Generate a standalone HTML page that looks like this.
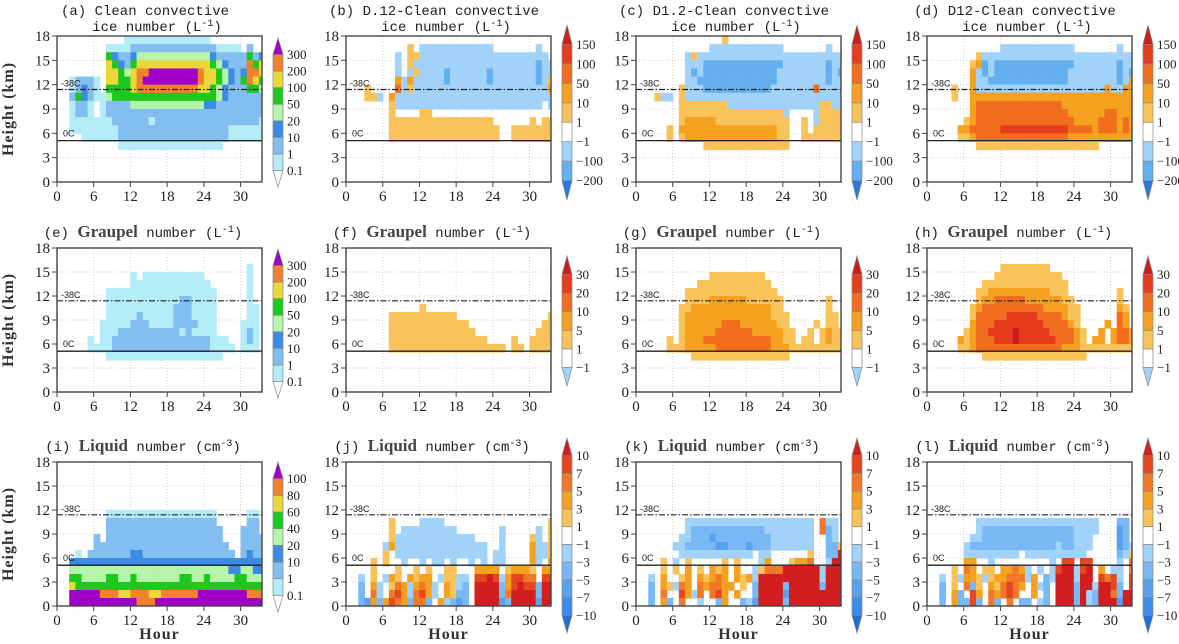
<!DOCTYPE html>
<html><head><meta charset="utf-8">
<style>
html,body{margin:0;padding:0;background:#fff;}
svg{display:block;}
</style></head>
<body>
<svg id="fig" width="1179" height="644" viewBox="0 0 1179 644" xmlns="http://www.w3.org/2000/svg"></svg>
<script>
// ---------- data: hour/height ticks ----------
const hourTicks = [0, 6, 12, 18, 24, 30];
const heightTicks = [0, 3, 6, 9, 12, 15, 18];
const hourMax = 33.5;
const heightMax = 18;
const freezeLevel = 5.1;
const homogLevel = 11.4;

// ---------- colour levels ----------
const absLabelsIce = ["0.1","1","10","20","50","100","200","300"];
const absLabelsLiq = ["0.1","1","10","20","40","60","80","100"];
const diffLabelsIce = ["-200","-100","-1","1","10","50","100","150"];
const diffLabelsGra = ["-1","1","5","10","20","30"];
const diffLabelsLiq = ["-10","-7","-5","-3","-1","1","3","5","7","10"];

const absColors = ["#ffffff","#b4ecf8","#82bef0","#3c8ce6","#b4f5aa","#1ec81e","#ebd737","#f0822d","#a000c8"];
const diffIceColors = ["#2878dc","#64aff0","#a0d2fa","#ffffff","#fac35a","#f5a01e","#f06e1e","#e63c1e","#c81e1e"];
const diffGraColors = ["#a0d2fa","#ffffff","#fac35a","#f5a01e","#f06e1e","#e63c1e","#c81e1e"];
const diffLiqColors = ["#1e6edc","#3c8cec","#5aa0f0","#78b9f5","#a0d2fa","#ffffff","#fac35a","#f5a01e","#f07828","#e6461e","#d21e1e"];

// cell code -> colour
const palAbs = {"0":"#b4ecf8","1":"#82bef0","2":"#3c8ce6","3":"#b4f5aa","4":"#1ec81e","5":"#ebd737","6":"#f0822d","7":"#a000c8"};
const palDiffIce = {"a":"#a0d2fa","b":"#64aff0","c":"#2878dc","1":"#fac35a","2":"#f5a01e","3":"#f06e1e","4":"#e63c1e","5":"#c81e1e"};
const palDiffGra = {"a":"#a0d2fa","1":"#fac35a","2":"#f5a01e","3":"#f06e1e","4":"#e63c1e","5":"#c81e1e"};
const palDiffLiq = {"a":"#a0d2fa","b":"#78b9f5","c":"#5aa0f0","d":"#3c8cec","e":"#1e6edc","1":"#fac35a","2":"#f5a01e","3":"#f07828","4":"#e6461e","5":"#d21e1e"};

// ---------- gridded fields: rows top(17-18 km) -> bottom(0-1 km), 1 char per hour ----------
const gridA = [
"......|.....0|000000|000000|0.....|....",
"......|..0000|111111|111111|110000|.1..",
"......|..4211|233333|333333|321111|1412",
"......|..5421|455555|555555|543211|1645",
"......|..5543|566777|777776|554321|2665",
"..0111|0.5544|567777|777776|554321|4654",
"..0121|0.4444|566666|666665|543211|1443",
"..1421|003444|444444|444444|443211|1111",
"..0110|.01111|333333|333333|221111|1111",
"..0110|.01111|111111|111111|111111|1111",
"..0000|000111|111011|111111|111111|1110",
"..0000|000011|111111|111111|111100|0000",
"....00|000011|111111|111111|111100|0000",
"......|....00|000000|000000|000...|....",
"","","",""];
const gridB = [
"",
"......|....1.|aaaaaa|aaaaaa|......|.a..",
"......|..a.11|aaaaaa|aaaaaa|aaaaaa|aaa.",
"......|..a.1a|aaaaaa|aaaaaa|aaaaaa|abaa",
"......|..a.a1|aaaaba|aaaaab|aaaaaa|abaa",
"......|..2a2a|aaaaba|aaaaab|aaaaaa|aba1",
"...1..|..3a1a|aaaaaa|aaaaaa|aaaaaa|aaa2",
"...11a|.2aaaa|aaaaaa|aaaaaa|aaaaaa|aaaa",
"......|.1aaaa|aaaaaa|aaaaaa|aaaaaa|aa.a",
"......|.1....|11....|......|......|....",
"......|.11111|111111|111111|......|1.11",
"......|.11111|111111|111111|1..111|1111",
"......|.11111|111111|111111|1..111|1111",
"","","","",""];
const gridC = [
"......|......|..1...|......|......|....",
"......|......|aaaaaa|aaaaaa|......|.a..",
"......|..a1aa|aaaaaa|aaaaaa|aaaaaa|aaaa",
"......|..aaab|bbbbbb|bbbbbb|aaaaaa|abaa",
"......|..abab|bbbbbb|bbbbba|aaaaaa|abab",
"......|..aabb|bbbbbb|bbbbba|aaaaaa|abaa",
"......|.1aaab|bbbbbb|bbbbaa|aaaaa3|aaaa",
"...1aa|.1aaaa|aaaaaa|aaaaaa|aaaaaa|aaaa",
"......|.11111|111aaa|aaaaaa|aaaaaa|11aa",
"......|.11111|111111|111111|a....a|1111",
"......|.12222|211111|111111|1..1.a|1111",
".....1|.22222|222222|222221|1..1.1|1111",
".....1|.12222|222222|222221|1..111|1111",
"......|.....1|111111|111111|1.....|....",
"","","",""];
const gridD = [
"",
"......|......|aaaaaa|aaaaaa|......|.a..",
"......|..1aaa|aaaaaa|aaaaaa|aaaaaa|aaaa",
"......|.12bab|bbbbbb|bbbbbb|aaaaaa|abaa",
"......|.2abab|bbbbbb|bbbbba|aaaaaa|abab",
"......|.2aabb|bbbbbb|bbbbba|aaaaaa|aba2",
"....1.|.2aaaa|aaaaaa|aaaaaa|aaaaa2|aa22",
"....1.|.22222|222222|222222|222222|2222",
"......|.23333|333333|333322|222222|2222",
"......|.23333|333333|333332|222223|3222",
"......|123333|333333|333333|222233|3232",
".....2|233333|444444|444443|333233|3232",
".....1|123333|333333|333332|222222|2222",
"......|..1111|111111|111111|1111..|....",
"","","",""];
const gridE = [
"","",
"......|......|......|......|......|.0..",
"......|......|0.0000|000000|......|.0..",
"......|......|000000|000000|0.....|.0..",
"......|..0000|000000|000000|00....|.0..",
"......|..0000|000000|001100|00....|.0..",
"......|..0000|000000|011100|00....|.00.",
"......|..0000|010000|011100|00....|.00.",
"......|.00000|111000|011110|00....|000.",
"......|.00011|111111|110100|00....|010.",
".....0|.00111|111111|111111|1000..|010.",
".....0|000111|111111|111111|10000.|000.",
"......|..0000|000000|000000|000...|....",
"","","",""];
const gridF = [
"","","","","","","",
"......|......|1.....|......|......|....",
"......|.11111|111111|......|......|...1",
"......|.11111|111111|11....|......|..11",
"......|.11111|111111|111...|......|.111",
"......|.11111|111111|11111.|...1..|1111",
"......|.11111|111111|111111|11.11.|1111",
"","","","",""];
const gridG = [
"","","",
"......|......|111111|111...|......|....",
"......|....11|111111|1111..|......|....",
"......|..1111|111111|11111.|......|....",
"......|..1111|222222|111111|......|.1..",
"......|.11222|222222|222211|......|.1..",
"......|.12222|222222|222211|1.....|.11.",
"......|.12222|223332|222221|1....1|.11.",
"......|.12222|233333|322222|11..1.|1211",
".....1|.12223|333333|333322|11.11.|1211",
".....1|112222|233333|333322|211111|1111",
"......|...111|111111|111111|1.....|....",
"","","",""];
const gridH = [
"","",
"......|......|111111|11....|......|....",
"......|.....1|111111|1111..|......|....",
"......|...111|111111|11111.|......|....",
"......|..1122|222222|22111.|......|.1..",
"......|..1223|333322|222211|......|.1..",
"......|.12333|333333|322221|1.....|.21.",
"......|.13333|344444|333321|1.....|.32.",
"......|.23334|444444|433332|1....2|.32.",
"......|123344|445444|443333|21..2.|2332",
".....2|123334|445444|444333|21.22.|2332",
".....1|123333|333333|333322|211111|1111",
"......|...111|111111|111111|11....|....",
"","","",""];
const gridI = [
"","","","","","",
"......|..0000|000000|000000|00....|.00.",
"......|..1111|111111|111111|11....|.11.",
"......|..1111|111111|111111|111...|111.",
"......|1.1111|111111|111111|111...|1111",
"......|111111|111111|111111|1111..|1111",
"...0.1|111111|221111|111111|11111.|1211",
"..2222|222222|222222|222222|222222|2222",
"..3333|333333|333333|333333|333322|3322",
"..4433|334433|433333|334433|433334|4333",
"..5444|444444|444444|444444|444444|4444",
"..7777|766655|666556|666667|777777|7666",
"..7777|777777|766677|777777|777777|7777"];
const gridJ = [
"","","","","","","",
"......|.1....|aaaa..|......|......|...1",
"......|.1.aaa|aaaaaa|......|.a....|.a.1",
"......|.1aaaa|aaaaaa|aaa...|.a....|1a.1",
"......|a2aaaa|aaaaaa|aaaaa.|.a....|2aa1",
"......|1.aaaa|aaaaaa|aaaaa.|aa....|2aa1",
"....1.|1..a..|a.aa.a|..a.a.|aa....|2a.2",
"....1.|..1..1|.1..11|...222|2.1222|1.22",
"..a.1.|a21.21|22.a11|aa.445|4a2443|3.44",
"..b.2a|.132a2|32a.21|ab.555|5b2454|4b55",
"..b.3a|.342a3|42a.21|bb.555|5b3555|5b55",
"..bc2b|2432b3|3b.2ab|cb.555|5cb555|5c55"];
const gridK = [
"","","","","","","",
"......|..aaaa|aaaaaa|aaaaaa|aaaaa.|3aa.",
"......|..abbb|bbbbbb|bbbaaa|aaaaa.|3ba.",
"......|.aabbb|cbbbbb|bbbbaa|aaaaa.|.ba.",
"......|aabbbb|bccbbb|cbbbaa|aaaaa.|.bb1",
"......|.aaaaa|aaaaaa|a.aa..|....1.|.bb5",
"....1.|a.1...|..1.1.|..a2..|.1223.|.a55",
"....1.|1.2.1.|212.2.|.a1333|555555|a555",
"..a.2.|.12.21|232.21|2a5555|555555|a555",
"..b.21|a32.32|3322.1|.b5555|b55555|b555",
"..b.3.|.42a3.|342.2.|.b5555|c55555|5555",
"..b.2b|.3..a.|.b2..b|ac5555|b55555|5555"];
const gridL = [
"","","","","","","",
"......|..aaaa|aaaaaa|aaaaaa|aaaa..|.bb.",
"......|..abbb|bbbbbb|bbbbbb|aaaa..|.cb.",
"......|.aabbb|bbbbbb|bbbbbb|aaa...|.cb.",
"......|abbbbb|bbbbbb|bbbabb|aaa...|.cba",
"......|aaaaaa|aaa.aa|aaaaaa|aa....|.ba1",
"......|22..a.|......|..a.44|.44...|.a.3",
"....1.|32.11.|2232a.|a.a455|a45.2.|aa.3",
"..a.1a|221a12|2333a2|.ba555|a55.43|4a.4",
"..b.1.|3b1.21|3432.2|ab.555|b55a55|4b.4",
"..b.2b|.42.32|343..2|.b.555|b5ab55|3b55",
"..b.2b|b4b.3b|.3.bb.|ab.555|b5ab55|5c55"];

// ---------- layout ----------
const colLeft = [57, 346, 636, 927];
const boxW = 205;
const rowTop = [36, 248, 462];
const rowBot = [182, 392, 606];
const cbarTop = [[38,25,25,25],[249,256,256,256],[462,438,438,438]];
const cbarBot = [[187,200,200,200],[398,386,386,386],[612,633,633,633]];

const panels = [
 {key:"a",r:0,c:0,grid:gridA,pal:palAbs,cb:absColors,lab:absLabelsIce,t1:"(a) Clean convective",t2:"ice number (L",sup:"-1"},
 {key:"b",r:0,c:1,grid:gridB,pal:palDiffIce,cb:diffIceColors,lab:diffLabelsIce,t1:"(b) D.12-Clean convective",t2:"ice number (L",sup:"-1"},
 {key:"c",r:0,c:2,grid:gridC,pal:palDiffIce,cb:diffIceColors,lab:diffLabelsIce,t1:"(c) D1.2-Clean convective",t2:"ice number (L",sup:"-1"},
 {key:"d",r:0,c:3,grid:gridD,pal:palDiffIce,cb:diffIceColors,lab:diffLabelsIce,t1:"(d) D12-Clean convective",t2:"ice number (L",sup:"-1"},
 {key:"e",r:1,c:0,grid:gridE,pal:palAbs,cb:absColors,lab:absLabelsIce,pre:"(e) ",bold:"Graupel",post:" number (L",sup:"-1"},
 {key:"f",r:1,c:1,grid:gridF,pal:palDiffGra,cb:diffGraColors,lab:diffLabelsGra,pre:"(f) ",bold:"Graupel",post:" number (L",sup:"-1"},
 {key:"g",r:1,c:2,grid:gridG,pal:palDiffGra,cb:diffGraColors,lab:diffLabelsGra,pre:"(g) ",bold:"Graupel",post:" number (L",sup:"-1"},
 {key:"h",r:1,c:3,grid:gridH,pal:palDiffGra,cb:diffGraColors,lab:diffLabelsGra,pre:"(h) ",bold:"Graupel",post:" number (L",sup:"-1"},
 {key:"i",r:2,c:0,grid:gridI,pal:palAbs,cb:absColors,lab:absLabelsLiq,pre:"(i) ",bold:"Liquid",post:" number (cm",sup:"-3"},
 {key:"j",r:2,c:1,grid:gridJ,pal:palDiffLiq,cb:diffLiqColors,lab:diffLabelsLiq,pre:"(j) ",bold:"Liquid",post:" number (cm",sup:"-3"},
 {key:"k",r:2,c:2,grid:gridK,pal:palDiffLiq,cb:diffLiqColors,lab:diffLabelsLiq,pre:"(k) ",bold:"Liquid",post:" number (cm",sup:"-3"},
 {key:"l",r:2,c:3,grid:gridL,pal:palDiffLiq,cb:diffLiqColors,lab:diffLabelsLiq,pre:"(l) ",bold:"Liquid",post:" number (cm",sup:"-3"}
];

const NS = "http://www.w3.org/2000/svg";
const svg = document.getElementById("fig");
function mk(tag, attrs, parent){
  const e = document.createElementNS(NS, tag);
  for (const k in attrs) e.setAttribute(k, attrs[k]);
  (parent||svg).appendChild(e);
  return e;
}
const defs = mk("defs", {});
const MONO = "'Liberation Mono', monospace";
const SERIF = "'Liberation Serif', serif";

panels.forEach(p => {
  const left = colLeft[p.c], top = rowTop[p.r], bot = rowBot[p.r];
  const xS = h => left + h * boxW / hourMax;
  const yS = km => bot - km * (bot - top) / heightMax;

  const g = mk("g", {});
  
  

  const cp = mk("clipPath", {id: "clip" + p.key}, defs);
  mk("rect", {x:left, y:top, width:boxW, height:bot-top}, cp);

  // gridlines
  const grid = mk("g", {stroke:"#c8c8c8","stroke-width":"0.8","stroke-dasharray":"1,2"}, g);
  
  
  hourTicks.forEach(h => { if (h>0) mk("line",{x1:xS(h),x2:xS(h),y1:top,y2:bot},grid); });
  heightTicks.forEach(k => { if (k>0 && k<18) mk("line",{x1:left,x2:left+boxW,y1:yS(k),y2:yS(k)},grid); });

  // filled field
  const field = mk("g", {"clip-path":"url(#clip"+p.key+")"}, g);
  
  
  p.grid.forEach((row, ri) => {
    const s = row.replace(/\|/g, "");
    const kmLow = heightMax - 1 - ri;
    for (let hi = 0; hi < s.length; hi++) {
      const ch = s[hi];
      if (ch === "." || !p.pal[ch]) continue;
      const cell = mk("rect", {x:xS(hi), y:yS(kmLow+1), width:xS(hi+1)-xS(hi)+0.6, height:yS(kmLow)-yS(kmLow+1)+0.6, fill:p.pal[ch]}, field);
      
      
    }
  });

  // reference lines
  const fl = mk("line", {x1:left,x2:left+boxW,y1:yS(freezeLevel),y2:yS(freezeLevel),stroke:"#222","stroke-width":"1.3"}, g);
  
  
  const hl = mk("line", {x1:left,x2:left+boxW,y1:yS(homogLevel),y2:yS(homogLevel),stroke:"#222","stroke-width":"1.2","stroke-dasharray":"6,2,1.5,2"}, g);
  
  
  const t38 = mk("text", {x:left+4, y:yS(homogLevel)-3, "font-size":"9", "font-family":"'Liberation Sans', sans-serif", fill:"#222"}, g);
  t38.textContent = "-38C";
  
  
  const t0 = mk("text", {x:left+6, y:yS(freezeLevel)-4, "font-size":"9", "font-family":"'Liberation Sans', sans-serif", fill:"#222"}, g);
  t0.textContent = "0C";
  
  

  // frame
  const fr = mk("rect", {x:left, y:top, width:boxW, height:bot-top, fill:"none", stroke:"#444", "stroke-width":"1.4"}, g);
  
  

  // y ticks
  heightTicks.forEach(k => {
    mk("line", {x1:left-5, x2:left, y1:yS(k), y2:yS(k), stroke:"#444", "stroke-width":"1"}, g);
    const t = mk("text", {x:left-7, y:yS(k)+5, "text-anchor":"end", "font-size":"15", "font-family":SERIF, fill:"#222"}, g);
    t.textContent = k;
    
    
  });
  // x ticks
  hourTicks.forEach(h => {
    mk("line", {x1:xS(h), x2:xS(h), y1:bot, y2:bot+5, stroke:"#444", "stroke-width":"1"}, g);
    const t = mk("text", {x:xS(h), y:bot+19, "text-anchor":"middle", "font-size":"15", "font-family":SERIF, fill:"#222"}, g);
    t.textContent = h;
    
    
  });

  // title
  if (p.t1) {
    const a = mk("text", {x:left+88, y:top-21, "text-anchor":"middle", "font-size":"14", "font-family":MONO, fill:"#222"}, g);
    a.textContent = p.t1;
    
    
    const b = mk("text", {x:left+100, y:top-5, "text-anchor":"middle", "font-size":"14", "font-family":MONO, fill:"#222"}, g);
    b.appendChild(document.createTextNode(p.t2));
    const sp = mk("tspan", {dy:"-5", "font-size":"10"}, b); sp.textContent = p.sup;
    const cl = mk("tspan", {dy:"5"}, b); cl.textContent = ")";
    
    
  } else {
    const a = mk("text", {x:left+86, y:top-11, "text-anchor":"middle", "font-size":"14", "font-family":MONO, fill:"#222"}, g);
    const t1 = mk("tspan", {}, a); t1.textContent = p.pre;
    const t2 = mk("tspan", {"font-family":SERIF, "font-weight":"bold", "font-size":"17", fill:"#444"}, a); t2.textContent = p.bold;
    const t3 = mk("tspan", {}, a); t3.textContent = p.post;
    const t4 = mk("tspan", {dy:"-5", "font-size":"10"}, a); t4.textContent = p.sup;
    const t5 = mk("tspan", {dy:"5"}, a); t5.textContent = ")";
    
    
  }

  // colorbar
  const cbx = left + 216, cbw = 10;
  const T = cbarTop[p.r][p.c], B = cbarBot[p.r][p.c];
  const n = p.cb.length, h = (B - T) / n;
  const cbg = mk("g", {}, g);
  
  
  p.cb.forEach((col, i) => {
    const yTop = B - (i + 1) * h, yBot = B - i * h;
    let el;
    if (i === 0) {
      el = mk("polygon", {points:`${cbx},${yTop} ${cbx+cbw},${yTop} ${cbx+cbw/2},${yBot}`, fill:col, stroke:"#888", "stroke-width":"0.7"}, cbg);
    } else if (i === n - 1) {
      el = mk("polygon", {points:`${cbx},${yBot} ${cbx+cbw},${yBot} ${cbx+cbw/2},${yTop}`, fill:col, stroke:"#888", "stroke-width":"0.7"}, cbg);
    } else {
      el = mk("rect", {x:cbx, y:yTop, width:cbw, height:h, fill:col, stroke:"#888", "stroke-width":"0.7"}, cbg);
    }
    
    
  });
  p.lab.forEach((lb, i) => {
    const y = B - (i + 1) * h;
    const t = mk("text", {x:cbx+cbw+4, y:y+4.5, "font-size":"13", "font-family":SERIF, fill:"#222"}, cbg);
    t.textContent = lb.replace("-", "\u2212");
    
    
  });
});

// axis titles
rowTop.forEach((top, r) => {
  const cy = (top + rowBot[r]) / 2;
  const t = mk("text", {x:0, y:0, transform:`translate(13,${cy}) rotate(-90)`, "text-anchor":"middle", "font-size":"16", "font-weight":"bold", "font-family":SERIF, fill:"#333", "letter-spacing":"1"});
  t.textContent = "Height (km)";
  
  
});
colLeft.forEach(left => {
  const t = mk("text", {x:left+boxW/2, y:639, "text-anchor":"middle", "font-size":"16", "font-weight":"bold", "font-family":SERIF, fill:"#333", "letter-spacing":"1"});
  t.textContent = "Hour";
  
  
});
</script>
</body></html>
